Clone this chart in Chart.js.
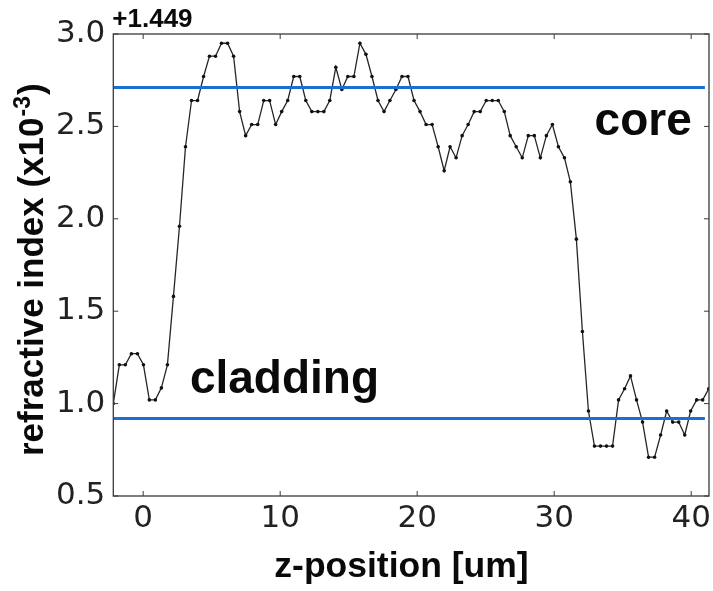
<!DOCTYPE html>
<html>
<head>
<meta charset="utf-8">
<script src="https://cdn.jsdelivr.net/npm/chart.js@4.4.1/dist/chart.umd.min.js"></script>
<style>
  html, body { margin: 0; padding: 0; background: #ffffff; }
  #wrap { width: 713px; height: 591px; position: relative; }
</style>
</head>
<body>
<div id="wrap"><canvas id="c"></canvas></div>
<script>
// ---- data ----
const zPosition = [
  -2.18, -1.74, -1.30, -0.86, -0.42, 0.02, 0.45, 0.89, 1.33, 1.77,
  2.21, 2.65, 3.09, 3.53, 3.97, 4.41, 4.84, 5.28, 5.72, 6.16,
  6.60, 7.04, 7.48, 7.92, 8.36, 8.80, 9.23, 9.67, 10.11, 10.55,
  10.99, 11.43, 11.87, 12.31, 12.75, 13.19, 13.62, 14.06, 14.50, 14.94,
  15.38, 15.82, 16.26, 16.70, 17.14, 17.58, 18.01, 18.45, 18.89, 19.33,
  19.77, 20.21, 20.65, 21.09, 21.53, 21.97, 22.40, 22.84, 23.28, 23.72,
  24.16, 24.60, 25.04, 25.48, 25.92, 26.36, 26.79, 27.23, 27.67, 28.11,
  28.55, 28.99, 29.43, 29.87, 30.31, 30.75, 31.18, 31.62, 32.06, 32.50,
  32.94, 33.38, 33.82, 34.26, 34.70, 35.14, 35.57, 36.01, 36.45, 36.89,
  37.33, 37.77, 38.21, 38.65, 39.09, 39.53, 39.96, 40.40, 40.84, 41.28
];
const refractiveIndex = [
  1.00, 1.21, 1.21, 1.27, 1.27, 1.21, 1.02, 1.02, 1.085, 1.21,
  1.58, 1.96, 2.39, 2.64, 2.64, 2.77, 2.88, 2.88, 2.95, 2.95,
  2.88, 2.58, 2.45, 2.51, 2.51, 2.64, 2.64, 2.51, 2.58, 2.64,
  2.77, 2.77, 2.64, 2.58, 2.58, 2.58, 2.64, 2.82, 2.70, 2.77,
  2.77, 2.95, 2.89, 2.77, 2.64, 2.58, 2.64, 2.70, 2.77, 2.77,
  2.64, 2.58, 2.51, 2.51, 2.39, 2.26, 2.39, 2.33, 2.45, 2.51,
  2.58, 2.58, 2.64, 2.64, 2.64, 2.58, 2.45, 2.39, 2.33, 2.45,
  2.45, 2.33, 2.45, 2.51, 2.39, 2.33, 2.20, 1.89, 1.39, 0.96,
  0.77, 0.77, 0.77, 0.77, 1.02, 1.08, 1.15, 1.02, 0.90, 0.71,
  0.71, 0.83, 0.96, 0.90, 0.90, 0.83, 0.96, 1.02, 1.02, 1.08
];
const coreLevel = 2.71;
const claddingLevel = 0.92;
const guideSpan = [-2.18, 41.0];
const xTickValues = [0, 10, 20, 30, 40];
const yTickValues = [0.5, 1.0, 1.5, 2.0, 2.5, 3.0];
const xRange = [-2.18, 41.3];
const yRange = [0.5, 3.0];
const offsetLabel = '+1.449';
const xTitle = 'z-position [um]';
const yTitleMain = 'refractive index (x10';
const yTitleSup = '-3';
const yTitleEnd = ')';
const regionLabels = [
  { text: 'core', z: 32.95, v: 2.453 },
  { text: 'cladding', z: 3.41, v: 1.057 }
];

const profilePoints = zPosition.map((z, i) => ({ x: z, y: refractiveIndex[i] }));
const levelLine = (lvl) => guideSpan.map(z => ({ x: z, y: lvl }));

const BOLD = '"Liberation Sans", Arial, Helvetica, sans-serif';

const framePlugin = {
  id: 'frame',
  afterDatasetsDraw(chart) {
    const { ctx, chartArea: a, scales: { x, y } } = chart;
    ctx.save();
    ctx.strokeStyle = '#3a3a3a';
    ctx.lineWidth = 1.3;
    ctx.strokeRect(a.left, a.top, a.right - a.left, a.bottom - a.top);
    const tl = 5;
    ctx.lineWidth = 1;
    ctx.beginPath();
    xTickValues.forEach(v => {
      const px = x.getPixelForValue(v);
      ctx.moveTo(px, a.bottom); ctx.lineTo(px, a.bottom - tl);
      ctx.moveTo(px, a.top); ctx.lineTo(px, a.top + tl);
    });
    yTickValues.forEach(v => {
      const py = y.getPixelForValue(v);
      ctx.moveTo(a.left, py); ctx.lineTo(a.left + tl, py);
      ctx.moveTo(a.right, py); ctx.lineTo(a.right - tl, py);
    });
    ctx.stroke();
    ctx.restore();
  },
  afterDraw(chart) {
    const { ctx, chartArea: a, scales: { x, y } } = chart;
    ctx.save();
    ctx.fillStyle = '#0a0a0a';
    ctx.textBaseline = 'alphabetic';
    // offset text
    ctx.textAlign = 'left';
    ctx.font = 'bold 26px ' + BOLD;
    ctx.fillText(offsetLabel, a.left - 1, a.top - 7);
    // region labels
    ctx.font = 'bold 46px ' + BOLD;
    regionLabels.forEach(r => {
      ctx.fillText(r.text, x.getPixelForValue(r.z), y.getPixelForValue(r.v));
    });
    // x title
    ctx.textAlign = 'center';
    ctx.font = 'bold 35.5px ' + BOLD;
    ctx.fillText(xTitle, 401.5, 577);
    // y title (rotated, with superscript)
    ctx.translate(43, 456);
    ctx.rotate(-Math.PI / 2);
    ctx.textAlign = 'left';
    ctx.font = 'bold 35px ' + BOLD;
    ctx.fillText(yTitleMain, 0, 0);
    let w = ctx.measureText(yTitleMain).width;
    ctx.font = 'bold 23px ' + BOLD;
    ctx.fillText(yTitleSup, w + 1, -13);
    w += ctx.measureText(yTitleSup).width + 2;
    ctx.font = 'bold 35px ' + BOLD;
    ctx.fillText(yTitleEnd, w, 0);
    ctx.restore();
  }
};

new Chart(document.getElementById('c'), {
  type: 'line',
  data: {
    datasets: [
      {
        label: 'core',
        data: levelLine(coreLevel),
        borderColor: '#1a6fd2',
        borderWidth: 3,
        pointRadius: 0,
        order: 0
      },
      {
        label: 'cladding',
        data: levelLine(claddingLevel),
        borderColor: '#1a6fd2',
        borderWidth: 3,
        pointRadius: 0,
        order: 0
      },
      {
        label: 'profile',
        data: profilePoints,
        borderColor: '#262626',
        borderWidth: 1.3,
        pointRadius: 1.8,
        pointBackgroundColor: '#111',
        pointBorderWidth: 0,
        tension: 0,
        order: 1
      }
    ]
  },
  options: {
    responsive: true,
    maintainAspectRatio: false,
    animation: false,
    events: [],
    layout: { padding: { top: 34, right: 1.3, left: 0, bottom: 0 } },
    plugins: { legend: { display: false }, tooltip: { enabled: false }, title: { display: false } },
    scales: {
      x: {
        type: 'linear',
        min: xRange[0],
        max: xRange[1],
        grid: { display: false, drawTicks: false },
        border: { display: false },
        afterBuildTicks: (s) => { s.ticks = xTickValues.map(v => ({ value: v })); },
        afterFit: (s) => { s.height = 95; s.paddingLeft = 0; s.paddingRight = 0; },
        ticks: {
          padding: 4,
          color: '#222',
          font: { family: '"DejaVu Sans", sans-serif', size: 31 },
          maxRotation: 0,
          autoSkip: false,
          callback: (v) => String(v)
        }
      },
      y: {
        type: 'linear',
        min: yRange[0],
        max: yRange[1],
        grid: { display: false, drawTicks: false },
        border: { display: false },
        afterBuildTicks: (s) => { s.ticks = yTickValues.map(v => ({ value: v })); },
        afterFit: (s) => { s.width = 113.3; s.paddingTop = 0; s.paddingBottom = 0; },
        ticks: {
          padding: 8,
          color: '#222',
          font: { family: '"DejaVu Sans", sans-serif', size: 31 },
          autoSkip: false,
          callback: (v) => Number(v).toFixed(1)
        }
      }
    }
  },
  plugins: [framePlugin]
});
</script>
</body>
</html>
